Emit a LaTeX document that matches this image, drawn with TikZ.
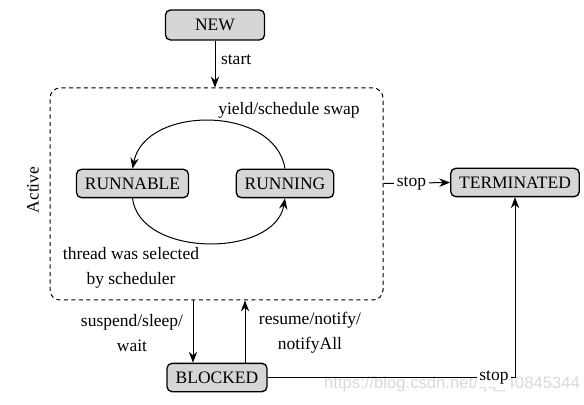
\documentclass[tikz,border=0pt]{standalone}
\usepackage{fontspec}
\setmainfont{Liberation Serif}
\newfontfamily\markfont{Liberation Sans}
\usetikzlibrary{arrows.meta, positioning, calc}
\definecolor{boxgray}{RGB}{214, 214, 214}

\begin{document}
\begin{tikzpicture}[x=0.6pt, y=-0.6pt,
  every node/.style={font=\fontsize{10.5}{12.6}\selectfont},
  state/.style={draw, fill=boxgray, rounded corners=3pt, line width=0.8pt, minimum height=17pt, inner xsep=5pt},
  arr/.style={-{Stealth[length=6.5pt, width=5pt]}, line width=0.6pt}]
  \useasboundingbox (0,0) rectangle (584,405);

  \node[draw, dash pattern=on 2.5pt off 2pt, line width=0.6pt, rounded corners=6pt,
        minimum width=199.8pt, minimum height=127.2pt] (active) at (216.5,194) {};
  \node[rotate=90] (activelbl) at (33,190) {Active};

  \node[state, minimum width=59.4pt, minimum height=18pt] (new) at (215,25) {NEW};
  \node[state] (runnable) at (132.5,183.5) {RUNNABLE};
  \node[state] (running) at (285,183.5) {RUNNING};
  \node[state] (terminated) at (515,182.5) {TERMINATED};
  \node[state, minimum width=60pt] (blocked) at (217,377.5) {BLOCKED};

  \draw[arr] (new.south) -- node[right, pos=0.4] {start} (new.south |- active.north);

  \draw[arr] (running.north) .. controls (275,105) and (145,105) .. (runnable.north);
  \node (yieldlbl) at (289,110) {yield/schedule swap};
  \draw[arr] (runnable.south) .. controls (140,258) and (275,258) .. (running.south);
  \node[align=center] (selectlbl) at (131,268) {thread was selected\\[2.5pt]by scheduler};

  \draw[arr] (active.east |- running) -- node[fill=white, inner sep=2pt, pos=0.42] {stop} (terminated.west);

  \draw[arr] ([xshift=-14.4pt]blocked.north |- active.south) -- ([xshift=-14.4pt]blocked.north);
  \draw[arr] ([xshift=16.8pt]blocked.north) -- ([xshift=16.8pt]blocked.north |- active.south);
  \node[align=center] (suspendlbl) at (132,333) {suspend/sleep/\\[2.5pt]wait};
  \node[align=center] (resumelbl) at (310,333) {resume/notify/\\[2.5pt]notifyAll};

  \node[font=\markfont\fontsize{10}{12}\selectfont, text=gray!30] (mark) at (452,384) {https://blog.csdn.net/qq\_40845344};
  \draw[arr] (blocked.east) -- node[fill=white, inner sep=1.5pt, pos=0.915] {stop} (terminated.south |- blocked.east) -- (terminated.south);
\end{tikzpicture}
\end{document}
